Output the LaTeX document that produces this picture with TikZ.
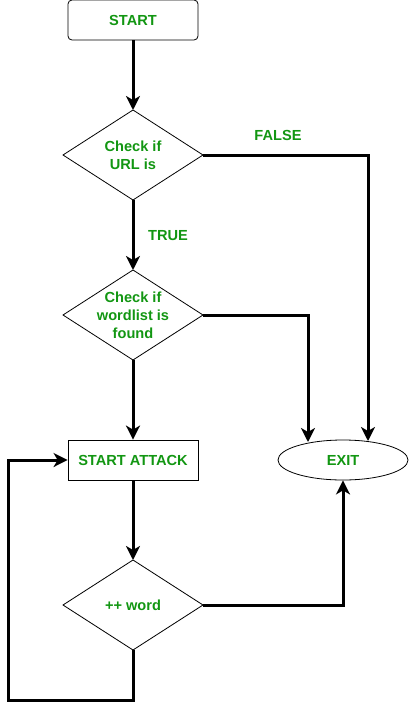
\documentclass[tikz,border=0pt]{standalone}
\usepackage{fontspec}
\setmainfont{Liberation Sans}
\usetikzlibrary{shapes.geometric,arrows.meta}
\definecolor{txtgreen}{RGB}{18,150,18}
\begin{document}
\begin{tikzpicture}[x=1pt,y=-1pt,
  lbl/.style={font=\fontsize{14.6}{18}\selectfont\bfseries, text=txtgreen, align=center},
  rbox/.style={lbl, draw, line width=0.8pt, minimum width=130pt, minimum height=40pt, inner sep=0pt},
  dia/.style={lbl, inner sep=0pt},
  ell/.style={lbl, draw, line width=0.8pt, ellipse, minimum width=130pt, minimum height=40pt, inner sep=0pt},
  conn/.style={line width=3pt, -{Stealth[length=14pt,width=14pt,inset=4pt]}}]
\useasboundingbox (0,0) rectangle (409,710);
\node[rbox, rounded corners=4pt] (start) at (133,20) {START};
\node[dia] (d1) at (133,155) {Check if\\URL is};
\node[dia] (d2) at (133,315) {Check if\\wordlist is\\found};
\node[rbox] (attack) at (133,460) {START ATTACK};
\node[ell] (exit) at (343,460) {EXIT};
\node[dia] (d3) at (133,605) {++ word};
\foreach \n in {d1,d2,d3}{
  \draw[line width=0.8pt] ([xshift=-70pt]\n.center) -- ([yshift=45pt]\n.center) -- ([xshift=70pt]\n.center) -- ([yshift=-45pt]\n.center) -- cycle;
}
\coordinate (d1t) at (133,110);
\coordinate (d1b) at (133,200);
\coordinate (d1r) at (203,155);
\coordinate (d2t) at (133,270);
\coordinate (d2b) at (133,360);
\coordinate (d2r) at (203,315);
\coordinate (d3t) at (133,560);
\coordinate (d3b) at (133,650);
\coordinate (d3r) at (203,605);
\coordinate (e1) at (368,441);
\coordinate (e2) at (308,442);
\coordinate (c1) at (368,155);
\coordinate (c2) at (308,315);
\coordinate (c3) at (343,605);
\coordinate (l1) at (133,700);
\coordinate (l2) at (8,700);
\coordinate (l3) at (8,460);
\draw[conn] (start.south) -- (d1t);
\draw[conn] (d1b) -- (d2t);
\draw[conn] (d2b) -- (attack.north);
\draw[conn] (attack.south) -- (d3t);
\draw[conn] (d1r) -- (c1) -- (e1);
\draw[conn] (d2r) -- (c2) -- (e2);
\draw[conn] (d3r) -- (c3) -- (exit.south);
\draw[conn] (d3b) -- (l1) -- (l2) -- (l3) -- (attack.west);
\node[lbl] (false) at (278,135) {FALSE};
\node[lbl] (true) at (168,236) {TRUE};
\end{tikzpicture}
\end{document}
